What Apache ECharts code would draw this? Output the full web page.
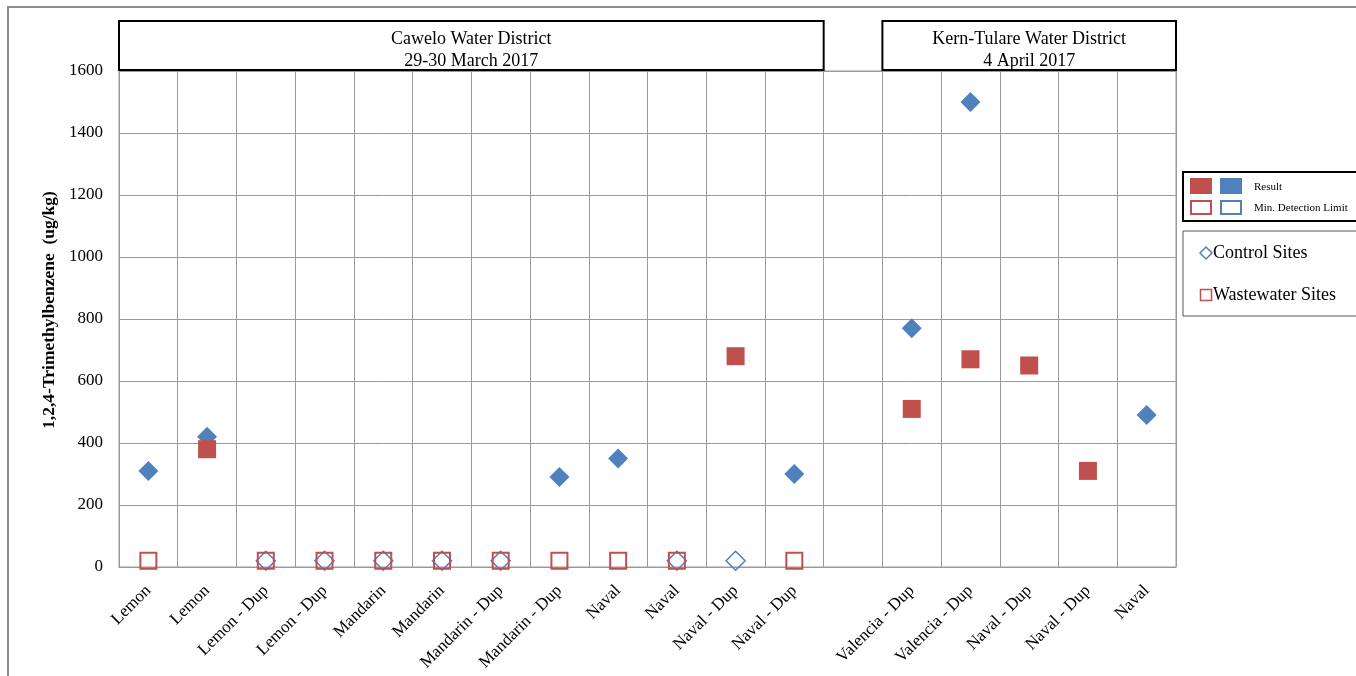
<!DOCTYPE html>
<html>
<head>
<meta charset="utf-8">
<script src="https://cdn.jsdelivr.net/npm/echarts@6/dist/echarts.min.js"></script>
<style>
  html, body { margin: 0; padding: 0; background: #fff; }
  #chart { width: 1356px; height: 676px; }
</style>
</head>
<body>
<div id="chart"></div>
<script>
// Sample sites (one blank slot separates the two districts)
const categories = [
  'Lemon', 'Lemon', 'Lemon - Dup', 'Lemon - Dup', 'Mandarin', 'Mandarin',
  'Mandarin - Dup', 'Mandarin - Dup', 'Naval', 'Naval', 'Naval - Dup', 'Naval - Dup',
  '',
  'Valencia - Dup', 'Valencia - Dup', 'Naval - Dup', 'Naval - Dup', 'Naval'
];

// 1,2,4-Trimethylbenzene, ug/kg (null = no value at that site)
const controlResult = [310, 420, null, null, null, null, null, 290, 350, null, null, 300, null, 770, 1500, null, null, 490];
const controlMDL    = [null, null, 20, 20, 20, 20, 20, null, null, 20, 20, null, null, null, null, null, null, null];
const wasteResult   = [null, 380, null, null, null, null, null, null, null, null, 680, null, null, 510, 670, 650, 310, null];
const wasteMDL      = [20, null, 20, 20, 20, 20, 20, 20, 20, 20, null, 20, null, null, null, null, null, null];

const yTicks = { min: 0, max: 1600, interval: 200 };

// District header spans (category index ranges)
const districts = [
  { lines: ['Cawelo Water District', '29-30 March 2017'], from: 0, to: 11 },
  { lines: ['Kern-Tulare Water District', '4 April 2017'], from: 13, to: 17 }
];

const BLUE = '#4F81BD';
const RED = '#C0504D';
const GRID = '#9a9a9a';
const SERIF = "'Liberation Serif', 'Times New Roman', serif";

const toData = arr => arr.map(v => (v === null ? '-' : v));

const chart = echarts.init(document.getElementById('chart'), null, { renderer: 'canvas' });

const option = {
  animation: false,
  backgroundColor: '#fff',
  grid: {
    left: 119, right: 180, top: 71, bottom: 109,
    show: true, borderColor: GRID, borderWidth: 1, containLabel: false
  },
  xAxis: {
    type: 'category',
    data: categories,
    boundaryGap: true,
    axisLine: { show: true, lineStyle: { color: GRID, width: 1 } },
    axisTick: { show: false },
    splitLine: { show: true, lineStyle: { color: GRID, width: 1 } },
    axisLabel: {
      interval: 0, rotate: 45, margin: 21,
      fontFamily: SERIF, fontSize: 17, color: '#000'
    }
  },
  yAxis: {
    type: 'value',
    min: yTicks.min, max: yTicks.max, interval: yTicks.interval,
    name: '1,2,4-Trimethylbenzene  (ug/kg)',
    nameLocation: 'middle', nameGap: 60, nameRotate: 90,
    nameTextStyle: {
      fontFamily: SERIF, fontSize: 17.5, fontWeight: 'bold', color: '#000',
      padding: [0, 0, 0, 18]
    },
    axisLine: { show: true, lineStyle: { color: GRID, width: 1 } },
    axisTick: { show: false },
    splitLine: { show: true, lineStyle: { color: GRID, width: 1 } },
    axisLabel: {
      margin: 16, fontFamily: SERIF, fontSize: 17, color: '#000',
      formatter: v => String(v)
    }
  },
  series: [
    {
      name: 'Control MDL', type: 'scatter', data: toData(controlMDL),
      symbol: 'diamond', symbolSize: 19,
      itemStyle: { color: 'rgba(255,255,255,0)', borderColor: BLUE, borderWidth: 1.5, opacity: 1 },
      z: 2
    },
    {
      name: 'Control Result', type: 'scatter', data: toData(controlResult),
      symbol: 'diamond', symbolSize: 20,
      itemStyle: { color: BLUE, opacity: 1 },
      z: 3
    },
    {
      name: 'Wastewater MDL', type: 'scatter', data: toData(wasteMDL),
      symbol: 'rect', symbolSize: 16,
      itemStyle: { color: 'rgba(255,255,255,0)', borderColor: RED, borderWidth: 2, opacity: 1 },
      z: 4
    },
    {
      name: 'Wastewater Result', type: 'scatter', data: toData(wasteResult),
      symbol: 'rect', symbolSize: 18,
      itemStyle: { color: RED, opacity: 1 },
      z: 5
    }
  ]
};

chart.setOption(option);

// Decorations: district headers, legend boxes, outer frame
function buildGraphics() {
  const c0 = chart.convertToPixel({ xAxisIndex: 0 }, 0);
  const c1 = chart.convertToPixel({ xAxisIndex: 0 }, 1);
  const bw = c1 - c0;
  const yTop = chart.convertToPixel({ yAxisIndex: 0 }, yTicks.max);
  const els = [];

  districts.forEach(d => {
    const x1 = chart.convertToPixel({ xAxisIndex: 0 }, d.from) - bw / 2;
    const x2 = chart.convertToPixel({ xAxisIndex: 0 }, d.to) + bw / 2;
    els.push({
      type: 'rect', z: 10,
      shape: { x: x1, y: yTop - 50, width: x2 - x1, height: 49 },
      style: { fill: '#fff', stroke: '#000', lineWidth: 2 }
    });
    els.push({
      type: 'text', z: 11,
      x: (x1 + x2) / 2, y: yTop - 21,
      style: {
        text: d.lines.join('\n'), fill: '#000',
        font: '18px ' + SERIF, lineHeight: 22,
        textAlign: 'center', textVerticalAlign: 'middle'
      }
    });
  });

  // Marker-style key
  els.push({
    type: 'rect', z: 10,
    shape: { x: 1183, y: 172, width: 200, height: 49 },
    style: { fill: '#fff', stroke: '#000', lineWidth: 2 }
  });
  els.push({ type: 'rect', z: 11, shape: { x: 1190, y: 178, width: 22, height: 16 }, style: { fill: RED } });
  els.push({ type: 'rect', z: 11, shape: { x: 1220, y: 178, width: 22, height: 16 }, style: { fill: BLUE } });
  els.push({ type: 'rect', z: 11, shape: { x: 1191, y: 201, width: 20, height: 13 }, style: { fill: '#fff', stroke: RED, lineWidth: 2 } });
  els.push({ type: 'rect', z: 11, shape: { x: 1221, y: 201, width: 20, height: 13 }, style: { fill: '#fff', stroke: BLUE, lineWidth: 2 } });
  els.push({ type: 'text', z: 11, x: 1254, y: 187, style: { text: 'Result', fill: '#000', font: '11px ' + SERIF, textVerticalAlign: 'middle' } });
  els.push({ type: 'text', z: 11, x: 1254, y: 208, style: { text: 'Min. Detection Limit', fill: '#000', font: '11px ' + SERIF, textVerticalAlign: 'middle' } });

  // Site-type key
  els.push({
    type: 'rect', z: 10,
    shape: { x: 1183, y: 231, width: 200, height: 85 },
    style: { fill: '#fff', stroke: '#555', lineWidth: 1 }
  });
  els.push({
    type: 'polygon', z: 11,
    shape: { points: [[1206, 247], [1212, 253], [1206, 259], [1200, 253]] },
    style: { fill: '#fff', stroke: BLUE, lineWidth: 1.5 }
  });
  els.push({ type: 'text', z: 11, x: 1213, y: 253, style: { text: 'Control Sites', fill: '#000', font: '18px ' + SERIF, textVerticalAlign: 'middle' } });
  els.push({
    type: 'rect', z: 11,
    shape: { x: 1200.5, y: 289.5, width: 11, height: 11 },
    style: { fill: '#fff', stroke: RED, lineWidth: 1.5 }
  });
  els.push({ type: 'text', z: 11, x: 1213, y: 295, style: { text: 'Wastewater Sites', fill: '#000', font: '18px ' + SERIF, textVerticalAlign: 'middle' } });

  // Outer chart frame
  els.push({
    type: 'rect', z: 0, silent: true,
    shape: { x: 8, y: 7, width: 1400, height: 720 },
    style: { fill: 'none', stroke: '#8c8c8c', lineWidth: 2 }
  });

  return els;
}

chart.setOption({ graphic: buildGraphics() });
</script>
</body>
</html>
